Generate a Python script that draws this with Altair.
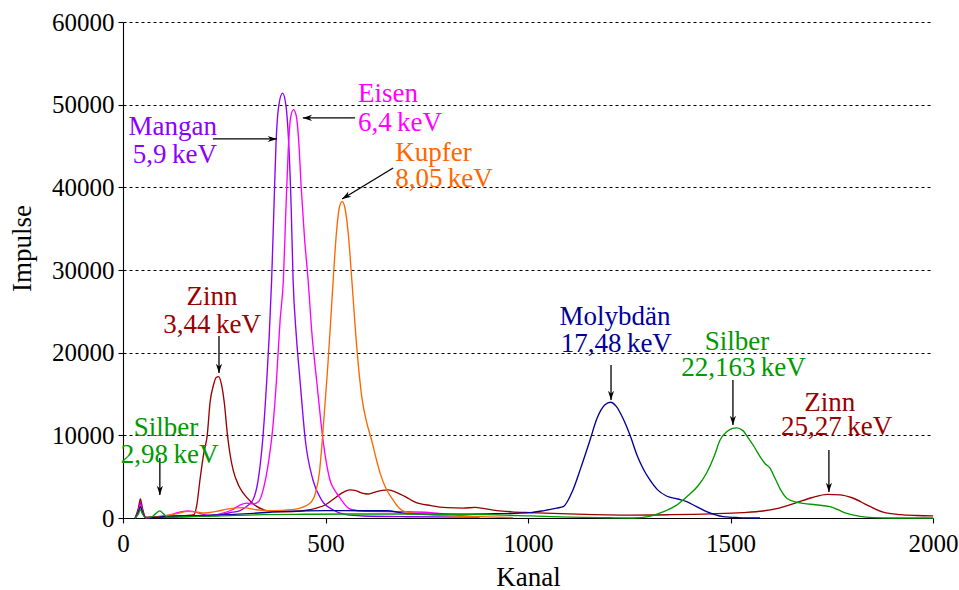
import altair as alt
import pandas as pd

FONT = "'Liberation Serif', 'Times New Roman', 'DejaVu Serif', serif"

series_names = ["Zinn", "Mangan", "Eisen", "Kupfer", "Molybdän", "Silber"]
series_colors = ["#990000", "#8B00FF", "#FF00FF", "#FF6600", "#000099", "#009900"]

zinn_x = [30, 38, 43, 48, 56, 80, 120, 160, 175, 183, 190, 200, 208, 215, 223, 230, 236, 243, 250, 258,
          265, 272, 285, 297, 315, 330, 355, 400, 440, 478, 500, 520, 540, 560, 575, 590, 605, 620, 640,
          655, 675, 700, 720, 760, 800, 840, 870, 885, 923, 960, 1005, 1100, 1252, 1350, 1450, 1530,
          1580, 1620, 1660, 1700, 1740, 1770, 1800, 1840, 1877, 1920, 1960, 2000]
zinn_y = [0, 1200, 2300, 1200, 100, 150, 250, 300, 400, 1800, 4600, 8000, 10000, 14000, 16000, 17000,
          17100, 16200, 14000, 10000, 7500, 5800, 4000, 3000, 2000, 1400, 900, 750, 850, 1200, 1600,
          2300, 3000, 3400, 3300, 3000, 2900, 3100, 3350, 3400, 3100, 2500, 1950, 1500, 1250, 1200,
          1280, 1200, 900, 750, 650, 500, 350, 400, 500, 650, 850, 1200, 1800, 2450, 2850, 2800, 2450,
          1500, 700, 400, 300, 250]

mangan_x = [30, 38, 43, 48, 56, 100, 150, 200, 240, 270, 289, 305, 321, 335, 345, 355, 361, 367, 373,
            378, 385, 394, 402, 409, 415, 420, 428, 437, 450, 469, 490, 519, 550, 593, 700, 880]
mangan_y = [0, 900, 1850, 900, 50, 100, 150, 250, 400, 700, 900, 1400, 2200, 5000, 9500, 16700, 22000,
            28800, 38000, 45500, 50000, 51400, 50000, 45500, 38000, 28800, 22000, 16700, 9500, 4600,
            2200, 970, 400, 240, 150, 100]

eisen_x = [30, 38, 43, 48, 56, 80, 110, 140, 160, 180, 200, 215, 240, 270, 290, 305, 320, 335, 346,
           360, 370, 379, 388, 396, 402, 408, 414, 421, 428, 434, 440, 448, 457, 467, 478, 495, 511,
           525, 536, 560, 600, 700, 760, 820, 880]
eisen_y = [0, 800, 1570, 800, 50, 100, 300, 700, 870, 700, 400, 300, 500, 1000, 1600, 1800, 1700, 2000,
           3400, 7000, 11000, 16700, 24000, 28800, 37000, 44500, 48500, 49400, 48600, 45500, 40000,
           34000, 28800, 22000, 16700, 9000, 4600, 3200, 2400, 1090, 800, 760, 650, 350, 80]

kupfer_x = [30, 38, 43, 48, 56, 90, 130, 160, 180, 200, 230, 260, 296, 330, 355, 400, 437, 462, 475,
            485, 493, 505, 512, 519, 527, 534, 541, 548, 556, 565, 575, 590, 602, 614, 625, 635, 650,
            667, 680, 696, 750, 850, 963]
kupfer_y = [0, 700, 1450, 700, 50, 200, 500, 800, 750, 600, 800, 1100, 1250, 1000, 880, 950, 1200, 1800,
            3000, 5500, 10000, 17900, 23200, 28800, 34500, 37500, 38300, 37500, 34500, 28800, 22000,
            14500, 11500, 9400, 7200, 5400, 3500, 2180, 1300, 760, 400, 200, 50]

molybdaen_x = [30, 38, 43, 48, 56, 100, 200, 300, 333, 400, 500, 600, 651, 700, 800, 900, 1005, 1040,
               1071, 1087, 1111, 1130, 1153, 1170, 1190, 1204, 1218, 1235, 1252, 1270, 1285, 1301,
               1320, 1342, 1370, 1392, 1415, 1441, 1482, 1520, 1573]
molybdaen_y = [0, 700, 1400, 700, 50, 150, 300, 500, 600, 800, 900, 880, 880, 530, 450, 500, 650, 900,
               1200, 1370, 3390, 6000, 9400, 12000, 13700, 14000, 13500, 12000, 10000, 7500, 5900,
               4600, 3400, 2660, 2300, 1970, 1400, 760, 160, 50, 0]

silber_x = [30, 38, 43, 48, 56, 70, 80, 91, 100, 110, 150, 233, 347, 450, 550, 700, 800, 900, 1005,
            1100, 1200, 1260, 1300, 1335, 1365, 1392, 1420, 1441, 1460, 1474, 1490, 1505, 1515, 1530,
            1545, 1560, 1573, 1585, 1597, 1610, 1625, 1639, 1660, 1680, 1710, 1746, 1765, 1787, 1820,
            1852, 1900, 2000]
silber_y = [0, 500, 1000, 500, 50, 100, 500, 870, 500, 100, 150, 240, 400, 450, 480, 480, 450, 400, 250,
            100, 30, 0, 200, 760, 1500, 2580, 3900, 5440, 7500, 9400, 10400, 10850, 10900, 10600, 9600,
            8500, 7420, 6600, 6050, 4800, 3300, 2380, 1950, 1770, 1600, 1370, 1000, 560, 200, 50, 0, 0]

x_ticks = [0, 500, 1000, 1500, 2000]
y_ticks = [0, 10000, 20000, 30000, 40000, 50000, 60000]

# annotation text lines
ann_text = ["Mangan", "5,9\u2009keV", "Eisen", "6,4\u2009keV", "Kupfer", "8,05\u2009keV",
            "Zinn", "3,44\u2009keV", "Silber", "2,98\u2009keV", "Molybdän", "17,48\u2009keV",
            "Silber", "22,163\u2009keV", "Zinn", "25,27\u2009keV"]
ann_x = [232, 232, 580, 580, 672, 672, 220, 220, 106, 115, 1215, 1218, 1516, 1532, 1745, 1762]
ann_y = [46330, 42940, 50320, 46815, 43190, 40040, 25770, 22380, 9920, 6650, 23350, 20080,
         20320, 17180, 12940, 10040]
ann_color = ["#8B00FF", "#8B00FF", "#FF00FF", "#FF00FF", "#FF6600", "#FF6600", "#990000", "#990000",
             "#009900", "#009900", "#000099", "#000099", "#009900", "#009900", "#990000", "#990000"]
ann_align = ["right", "right", "left", "left", "left", "left", "center", "center", "center", "center",
             "center", "center", "center", "center", "center", "center"]

# arrows (start -> tip)
arr_x1 = [222, 573, 667, 237, 91, 1205, 1506, 1743]
arr_y1 = [45850, 48400, 42340, 22020, 7260, 18500, 16700, 8230]
arr_x2 = [380, 444, 541, 237, 91, 1205, 1506, 1743]
arr_y2 = [45850, 48400, 38590, 17540, 2780, 14270, 11250, 3150]
arr_angle = [90, 270, 238.7, 180, 180, 180, 180, 180]

rows = []
for name, xs, ys in [("Zinn", zinn_x, zinn_y), ("Mangan", mangan_x, mangan_y),
                     ("Eisen", eisen_x, eisen_y), ("Kupfer", kupfer_x, kupfer_y),
                     ("Molybdän", molybdaen_x, molybdaen_y), ("Silber", silber_x, silber_y)]:
    for i, (a, b) in enumerate(zip(xs, ys)):
        rows.append({"name": name, "x": a, "y": b, "i": i})
spec = pd.DataFrame(rows)

ann = pd.DataFrame({"text": ann_text, "x": ann_x, "y": ann_y, "color": ann_color, "align": ann_align})
arr = pd.DataFrame({"x1": arr_x1, "y1": arr_y1, "x2": arr_x2, "y2": arr_y2, "angle": arr_angle})

xscale = alt.Scale(domain=[0, 2000], nice=False)
yscale = alt.Scale(domain=[0, 60000], nice=False)

lines = alt.Chart(spec).mark_line(strokeWidth=1.35, interpolate="monotone").encode(
    x=alt.X("x:Q", scale=xscale,
            axis=alt.Axis(values=x_ticks, format="d", title="Kanal", grid=False, labelFlush=False)),
    y=alt.Y("y:Q", scale=yscale,
            axis=alt.Axis(values=y_ticks, format="d", title="Impulse", grid=True, labelFlush=False,
                          gridDash=[3, 3], gridColor="black", gridOpacity=1, gridWidth=1.1,
                          titleX=-101, titleY=226, titleAngle=270, titleBaseline="middle",
                          titleAlign="center")),
    color=alt.Color("name:N", scale=alt.Scale(domain=series_names, range=series_colors), legend=None),
    order=alt.Order("i:Q"),
)

arrow_lines = alt.Chart(arr).mark_rule(color="black", strokeWidth=1.3).encode(
    x=alt.X("x1:Q", scale=xscale), y=alt.Y("y1:Q", scale=yscale),
    x2="x2:Q", y2="y2:Q",
)
head_shape = "M0,0 L-0.6,1.8 L0,1.25 L0.6,1.8 Z"
arrow_heads = alt.Chart(arr).mark_point(shape=head_shape, filled=True, size=105, color="black",
                                        strokeWidth=0, opacity=1).encode(
    x=alt.X("x2:Q", scale=xscale), y=alt.Y("y2:Q", scale=yscale),
    angle=alt.Angle("angle:Q", scale=None),
)

text_layers = []
for al in ["left", "center", "right"]:
    sub = ann[ann["align"] == al]
    text_layers.append(
        alt.Chart(sub).mark_text(align=al, baseline="alphabetic", font=FONT, fontSize=27,
                                 fontWeight="normal").encode(
            x=alt.X("x:Q", scale=xscale), y=alt.Y("y:Q", scale=yscale),
            text="text:N", color=alt.Color("color:N", scale=None),
        )
    )

chart = alt.layer(lines, arrow_lines, arrow_heads, *text_layers).properties(
    width=810, height=496,
    padding={"left": 123, "top": 22, "right": 26, "bottom": 72},
    autosize=alt.AutoSizeParams(type="none"),
    background="white",
).configure_view(stroke=None).configure_axis(
    domainColor="black", domainWidth=1.1, tickColor="black", tickWidth=1.1, tickSize=5,
    labelFont=FONT, labelFontSize=25, labelColor="black",
    titleFont=FONT, titleFontSize=27, titleColor="black", titleFontWeight="normal",
).configure_axisX(labelPadding=8, titlePadding=8).configure_axisY(labelPadding=4
).configure_text(font=FONT).configure_mark(font=FONT)

chart.save("out.html", embed_options={"renderer": "svg", "actions": False})
